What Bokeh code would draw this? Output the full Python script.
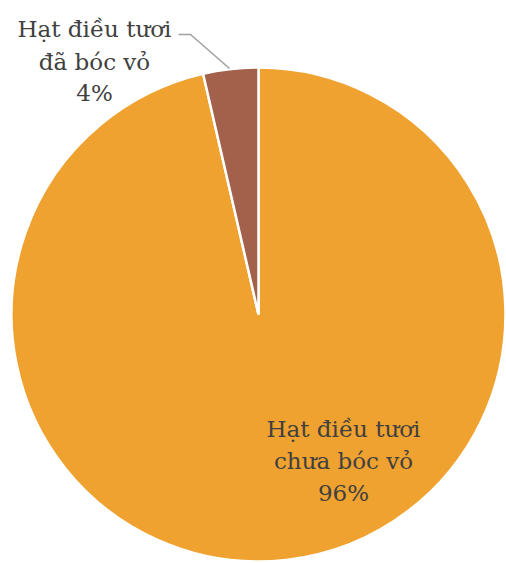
import math
from bokeh.plotting import figure
from bokeh.models import Range1d, ColumnDataSource
from bokeh.core.properties import value
from bokeh.embed import file_html
from bokeh.resources import INLINE

# ---- data ----
categories = ["Hạt điều tươi chưa bóc vỏ", "Hạt điều tươi đã bóc vỏ"]
shares = [96.4, 3.6]
pct_labels = ["96%", "4%"]
label_lines = [["Hạt điều tươi", "chưa bóc vỏ"], ["Hạt điều tươi", "đã bóc vỏ"]]
colors = ["#EFA22F", "#A3614B"]

W, H = 506, 563
OFF = 0
p = figure(width=W, height=H, output_backend="svg", toolbar_location=None,
           x_range=Range1d(0, W), y_range=Range1d(0, H), min_border=0)
p.axis.visible = False
p.grid.visible = False
p.outline_line_color = None
p.background_fill_color = "white"
p.border_fill_color = "white"

def Y(page_y):
    return H + OFF - page_y

def X(page_x):
    return page_x - OFF

cx, cy, r = X(258), Y(314), 247
total = sum(shares)
starts, ends = [], []
a = math.pi / 2
for s in shares:
    starts.append(a)
    a = a - 2 * math.pi * s / total
    ends.append(a)

src = ColumnDataSource(dict(cat=categories, start=starts, end=ends, color=colors))
p.wedge(x=cx, y=cy, radius=r, start_angle="start", end_angle="end", direction="clock",
        fill_color="color", line_color="white", line_width=2.5, source=src)

# leader line for the small slice
p.line(x=[X(178), X(190), X(229)], y=[Y(34), Y(34), Y(68)], line_color="#A0A0A0", line_width=1.5)

label_pos = [(343, [428, 460, 492]), (94, [28, 61, 92])]
for i in range(len(categories)):
    lx, ys = label_pos[i]
    lines = label_lines[i] + [pct_labels[i]]
    p.text(x=[X(lx)] * len(lines), y=[Y(yy) for yy in ys], text=lines,
           text_align="center", text_baseline="middle",
           text_font=value("DejaVu Serif"), text_font_size="23px",
           text_color="#404040")

open("out.html", "w").write(file_html(p, INLINE))
